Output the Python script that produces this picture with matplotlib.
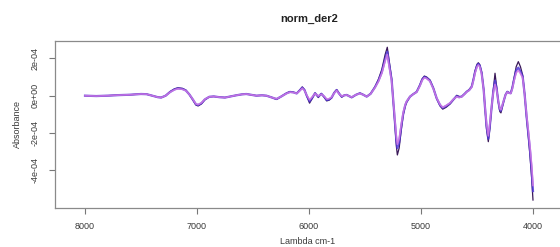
#!/usr/bin/env python3
"""
norm_der2 - second derivative spectra (R matplot style)
"""

import numpy as np
import matplotlib
matplotlib.use("Agg")
import matplotlib.pyplot as plt

# wavenumber grid, cm-1
wavenumber = [
    8000, 7900, 7800, 7700, 7600, 7500, 7450, 7400, 7350, 7320,
    7280, 7240, 7200, 7170, 7130, 7100, 7070, 7040, 7010, 6990,
    6960, 6930, 6890, 6850, 6800, 6750, 6700, 6650, 6600, 6560,
    6520, 6470, 6420, 6380, 6330, 6290, 6250, 6200, 6170, 6140,
    6110, 6080, 6060, 6040, 6020, 5995, 5970, 5946, 5917, 5890,
    5865, 5842, 5820, 5798, 5775, 5753, 5730, 5708, 5685, 5664,
    5640, 5619, 5580, 5545, 5515, 5485, 5450, 5411, 5380, 5350,
    5320, 5301, 5285, 5262, 5245, 5232, 5220, 5211, 5195, 5175,
    5158, 5140, 5128, 5098, 5070, 5039, 5010, 4990, 4970, 4950,
    4920, 4890, 4860, 4830, 4806, 4775, 4741, 4710, 4681, 4660,
    4637, 4610, 4592, 4570, 4547, 4530, 4518, 4500, 4488, 4475,
    4458, 4440, 4429, 4415, 4399, 4385, 4369, 4355, 4339, 4325,
    4310, 4296, 4286, 4272, 4259, 4245, 4229, 4214, 4199, 4185,
    4170, 4150, 4131, 4112, 4092, 4075, 4057, 4040, 4027, 4012,
    4000,
]

# absorbance values in units of 1e-4
absorb_dark = [
    0.00, -0.02, 0.00, 0.03, 0.05, 0.09, 0.08, 0.00, -0.08, -0.10,
    0.00, 0.22, 0.37, 0.42, 0.39, 0.30, 0.08, -0.20, -0.50, -0.55,
    -0.44, -0.22, -0.06, -0.04, -0.08, -0.10, -0.04, 0.02, 0.07, 0.09,
    0.05, 0.00, 0.02, 0.00, -0.10, -0.20, -0.05, 0.14, 0.22, 0.19,
    0.12, 0.32, 0.47, 0.32, -0.02, -0.40, -0.14, 0.15, -0.10, 0.12,
    -0.08, -0.28, -0.24, -0.12, 0.17, 0.33, 0.11, -0.08, 0.02, 0.05,
    -0.03, -0.10, 0.05, 0.14, 0.05, -0.05, 0.11, 0.48, 0.88, 1.40,
    2.20, 2.59, 1.90, 0.92, -0.56, -1.62, -2.70, -3.17, -2.80, -1.78,
    -1.02, -0.55, -0.35, -0.05, 0.08, 0.21, 0.58, 0.90, 1.05, 1.00,
    0.84, 0.42, -0.16, -0.55, -0.72, -0.62, -0.45, -0.22, 0.02, -0.04,
    -0.05, 0.10, 0.22, 0.32, 0.50, 0.95, 1.32, 1.68, 1.76, 1.66,
    1.26, 0.32, -0.64, -1.78, -2.46, -1.76, -0.62, 0.28, 1.20, 0.50,
    -0.34, -0.85, -0.92, -0.56, -0.25, 0.06, 0.22, 0.16, 0.14, 0.44,
    0.92, 1.55, 1.82, 1.55, 1.10, 0.12, -1.22, -2.30, -3.20, -4.40,
    -5.58,
]

absorb_blue = [
    0.00, -0.02, 0.00, 0.03, 0.05, 0.09, 0.08, 0.00, -0.08, -0.10,
    0.00, 0.20, 0.34, 0.39, 0.36, 0.28, 0.08, -0.18, -0.46, -0.50,
    -0.40, -0.20, -0.06, -0.04, -0.08, -0.10, -0.04, 0.02, 0.07, 0.09,
    0.05, 0.00, 0.02, 0.00, -0.10, -0.18, -0.05, 0.13, 0.20, 0.18,
    0.12, 0.30, 0.43, 0.30, 0.00, -0.30, -0.10, 0.13, -0.05, 0.10,
    -0.05, -0.23, -0.20, -0.10, 0.15, 0.30, 0.10, -0.05, 0.02, 0.04,
    -0.03, -0.09, 0.05, 0.13, 0.05, -0.05, 0.10, 0.45, 0.80, 1.25,
    1.95, 2.35, 1.70, 0.84, -0.50, -1.48, -2.40, -2.80, -2.50, -1.60,
    -0.94, -0.50, -0.32, -0.05, 0.08, 0.20, 0.55, 0.85, 1.00, 0.95,
    0.80, 0.40, -0.14, -0.50, -0.65, -0.55, -0.41, -0.20, -0.02, -0.08,
    -0.05, 0.10, 0.21, 0.30, 0.48, 0.90, 1.25, 1.60, 1.70, 1.60,
    1.20, 0.30, -0.59, -1.60, -2.30, -1.60, -0.59, 0.20, 0.80, 0.40,
    -0.30, -0.75, -0.80, -0.50, -0.23, 0.05, 0.21, 0.15, 0.13, 0.40,
    0.84, 1.35, 1.50, 1.30, 1.02, 0.10, -1.12, -2.10, -2.90, -4.00,
    -5.10,
]

absorb_magenta = [
    0.00, -0.02, 0.00, 0.03, 0.05, 0.09, 0.08, 0.00, -0.08, -0.10,
    0.00, 0.19, 0.32, 0.37, 0.34, 0.27, 0.08, -0.17, -0.44, -0.48,
    -0.38, -0.19, -0.06, -0.04, -0.08, -0.10, -0.04, 0.02, 0.07, 0.09,
    0.05, 0.00, 0.02, 0.00, -0.10, -0.17, -0.05, 0.12, 0.19, 0.17,
    0.12, 0.28, 0.40, 0.28, 0.02, -0.22, -0.06, 0.11, -0.02, 0.08,
    -0.03, -0.18, -0.16, -0.08, 0.14, 0.28, 0.09, -0.03, 0.02, 0.04,
    -0.03, -0.08, 0.05, 0.12, 0.05, -0.05, 0.10, 0.43, 0.76, 1.20,
    1.85, 2.20, 1.60, 0.78, -0.46, -1.38, -2.20, -2.60, -2.30, -1.50,
    -0.88, -0.47, -0.30, -0.05, 0.08, 0.19, 0.52, 0.82, 0.96, 0.92,
    0.77, 0.38, -0.13, -0.48, -0.62, -0.52, -0.39, -0.19, -0.05, -0.10,
    -0.06, 0.09, 0.20, 0.29, 0.46, 0.86, 1.20, 1.54, 1.64, 1.55,
    1.15, 0.28, -0.55, -1.50, -2.15, -1.48, -0.55, 0.15, 0.60, 0.32,
    -0.28, -0.70, -0.75, -0.47, -0.22, 0.05, 0.20, 0.14, 0.12, 0.37,
    0.78, 1.22, 1.35, 1.18, 0.95, 0.08, -1.05, -1.95, -2.70, -3.70,
    -4.80,
]

x_ticks = [8000, 7000, 6000, 5000, 4000]
y_ticks = [2e-4, 0.0, -2e-4, -4e-4]
y_tick_labels = ["2e-04", "0e+00", "-2e-04", "-4e-04"]

FONT = "Liberation Sans"
TXT = "#3a3a3a"


def main():
    plt.rcParams['font.family'] = FONT
    fig = plt.figure(figsize=(5.6, 2.47), dpi=100)
    ax = fig.add_axes([55 / 560, 39.3 / 247, 508 / 560, 167 / 247])

    x = np.array(wavenumber)
    ax.plot(x, np.array(absorb_dark) * 1e-4, color='#3a1858', linewidth=0.9)
    ax.plot(x, np.array(absorb_blue) * 1e-4, color='#5038d8', linewidth=1.6, alpha=0.85)
    ax.plot(x, np.array(absorb_magenta) * 1e-4, color='#d47ae6', linewidth=1.2, alpha=0.85)

    ax.set_xlim(8268, 3732)
    ax.set_ylim(-5.99e-4, 2.94e-4)
    ax.set_xticks(x_ticks)
    ax.set_xticklabels([str(t) for t in x_ticks])
    ax.set_yticks(y_ticks)
    ax.set_yticklabels(y_tick_labels, rotation=90, va='center')

    ax.tick_params(direction='out', length=4, width=0.8, color='#777777',
                   labelsize=6.5, labelcolor=TXT)
    ax.tick_params(axis='x', pad=6)
    ax.tick_params(axis='y', pad=7)
    for s in ax.spines.values():
        s.set_color('#8a8a8a')
        s.set_linewidth(0.9)

    fig.text(309 / 560, 1 - 19 / 247, 'norm_der2', ha='center', va='center',
             fontsize=8, fontweight='bold', color='#222222')
    fig.text(17 / 560, 1 - 124 / 247, 'Absorbance', ha='center', va='center',
             rotation=90, fontsize=6.5, color=TXT)
    fig.text(308 / 560, 1 - 241.5 / 247, 'Lambda cm-1', ha='center', va='center',
             fontsize=6.5, color=TXT)

    fig.savefig('out.png', dpi=100, facecolor='white')


if __name__ == "__main__":
    main()
